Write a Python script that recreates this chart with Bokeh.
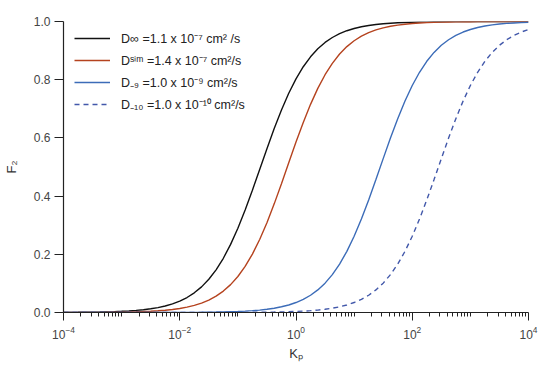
from bokeh.plotting import figure
from bokeh.models import (FixedTicker, NumeralTickFormatter, LogTickFormatter, Range1d,
                          Legend, LegendItem, ColumnDataSource)
from bokeh.embed import file_html
from bokeh.resources import INLINE

# ---- data ----
log_kp = [-4.0, -3.875, -3.75, -3.625, -3.5, -3.375, -3.25, -3.125, -3.0, -2.875,
          -2.75, -2.625, -2.5, -2.375, -2.25, -2.125, -2.0, -1.875, -1.75, -1.625,
          -1.5, -1.375, -1.25, -1.125, -1.0, -0.875, -0.75, -0.625, -0.5, -0.375,
          -0.25, -0.125, 0.0, 0.125, 0.25, 0.375, 0.5, 0.625, 0.75, 0.875,
          1.0, 1.125, 1.25, 1.375, 1.5, 1.625, 1.75, 1.875, 2.0, 2.125,
          2.25, 2.375, 2.5, 2.625, 2.75, 2.875, 3.0, 3.125, 3.25, 3.375,
          3.5, 3.625, 3.75, 3.875, 4.0]

f2_dinf = [0.0004, 0.0005, 0.0007, 0.0010, 0.0013, 0.0017, 0.0023, 0.0031, 0.0041, 0.0054,
           0.0072, 0.0096, 0.0127, 0.0169, 0.0224, 0.0296, 0.0391, 0.0515, 0.0676, 0.0881,
           0.1141, 0.1466, 0.1864, 0.2340, 0.2894, 0.3520, 0.4202, 0.4914, 0.5629, 0.6321,
           0.6961, 0.7534, 0.8029, 0.8446, 0.8787, 0.9062, 0.9280, 0.9450, 0.9582, 0.9683,
           0.9760, 0.9819, 0.9864, 0.9898, 0.9923, 0.9942, 0.9957, 0.9967, 0.9976, 0.9982,
           0.9986, 0.9990, 0.9992, 0.9994, 0.9996, 0.9997, 0.9998, 0.9998, 0.9999, 0.9999,
           0.9999, 0.9999, 1.0, 1.0, 1.0]

f2_dsim = [0.0001, 0.0002, 0.0003, 0.0003, 0.0004, 0.0006, 0.0008, 0.0011, 0.0014, 0.0019,
           0.0025, 0.0033, 0.0045, 0.0059, 0.0079, 0.0105, 0.0139, 0.0185, 0.0245, 0.0324,
           0.0428, 0.0562, 0.0736, 0.0958, 0.1238, 0.1585, 0.2008, 0.2509, 0.3087, 0.3733,
           0.4427, 0.5143, 0.5856, 0.6533, 0.7153, 0.7701, 0.8171, 0.8563, 0.8882, 0.9137,
           0.9339, 0.9496, 0.9617, 0.9710, 0.9781, 0.9835, 0.9876, 0.9906, 0.9930, 0.9947,
           0.9960, 0.9970, 0.9978, 0.9983, 0.9987, 0.9991, 0.9993, 0.9995, 0.9996, 0.9997,
           0.9998, 0.9998, 0.9999, 0.9999, 0.9999]

f2_d9 = [0.0, 0.0, 0.0, 0.0, 0.0, 0.0, 0.0, 0.0, 0.0, 0.0,
         0.0001, 0.0001, 0.0001, 0.0002, 0.0002, 0.0003, 0.0004, 0.0005, 0.0006, 0.0008,
         0.0011, 0.0015, 0.0020, 0.0027, 0.0035, 0.0047, 0.0063, 0.0083, 0.0111, 0.0147,
         0.0196, 0.0259, 0.0343, 0.0452, 0.0593, 0.0776, 0.1009, 0.1302, 0.1663, 0.2102,
         0.2619, 0.3212, 0.3869, 0.4568, 0.5288, 0.5994, 0.6661, 0.7269, 0.7801, 0.8255,
         0.8632, 0.8938, 0.9182, 0.9373, 0.9523, 0.9638, 0.9726, 0.9793, 0.9844, 0.9883,
         0.9912, 0.9934, 0.9950, 0.9963, 0.9972]

f2_d10 = [0.0, 0.0, 0.0, 0.0, 0.0, 0.0, 0.0, 0.0, 0.0, 0.0,
          0.0, 0.0, 0.0, 0.0, 0.0, 0.0, 0.0, 0.0, 0.0001, 0.0001,
          0.0001, 0.0002, 0.0002, 0.0003, 0.0004, 0.0005, 0.0006, 0.0008, 0.0011, 0.0015,
          0.0020, 0.0027, 0.0035, 0.0047, 0.0063, 0.0083, 0.0111, 0.0147, 0.0196, 0.0259,
          0.0343, 0.0452, 0.0593, 0.0776, 0.1009, 0.1302, 0.1663, 0.2102, 0.2619, 0.3212,
          0.3869, 0.4568, 0.5288, 0.5994, 0.6661, 0.7269, 0.7801, 0.8255, 0.8632, 0.8938,
          0.9182, 0.9373, 0.9523, 0.9638, 0.9726]

series_labels = ["D\u221e =1.1 x 10\u207b\u2077 cm\u00b2 /s",
                 "D\u02e2\u2071\u1d50 =1.4 x 10\u207b\u2077 cm\u00b2/s",
                 "D\u208b\u2089 =1.0 x 10\u207b\u2079 cm\u00b2/s",
                 "D\u208b\u2081\u2080 =1.0 x 10\u207b\u00b9\u2070 cm\u00b2/s"]

x_title = "K\u209a"
y_title = "F\u2082"
x_major_ticks = [1e-4, 1e-2, 1e0, 1e2, 1e4]
y_ticks = [0.0, 0.2, 0.4, 0.6, 0.8, 1.0]

kp = [10 ** v for v in log_kp]
src = ColumnDataSource(dict(kp=kp, dinf=f2_dinf, dsim=f2_dsim, d9=f2_d9, d10=f2_d10))

FONT = "Liberation Sans"

p = figure(width=550, height=370, x_axis_type="log",
           x_range=Range1d(1e-4, 1e4), y_range=Range1d(0, 1),
           output_backend="svg", toolbar_location=None,
           min_border_left=63, min_border_right=22, min_border_top=21, min_border_bottom=58)
p.outline_line_color = None
p.xgrid.visible = False
p.ygrid.visible = False
p.background_fill_color = "white"

r1 = p.line("kp", "dinf", source=src, line_color="#111111", line_width=1.4)
r2 = p.line("kp", "dsim", source=src, line_color="#b5431f", line_width=1.4)
r3 = p.line("kp", "d9", source=src, line_color="#3c6cb8", line_width=1.4)
r4 = p.line("kp", "d10", source=src, line_color="#4258aa", line_width=1.4, line_dash="5 4")

minor = []
for e in range(-4, 4):
    for m in range(2, 10):
        minor.append(m * 10 ** e)
minor += [10 ** e for e in (-3, -1, 1, 3)]

xa = p.xaxis[0]
xa.ticker = FixedTicker(ticks=x_major_ticks, minor_ticks=sorted(set(minor)))
xa.formatter = LogTickFormatter()
ya = p.yaxis[0]
ya.ticker = FixedTicker(ticks=y_ticks)
ya.formatter = NumeralTickFormatter(format="0.0")

for ax in (xa, ya):
    ax.axis_line_color = "#222222"
    ax.axis_line_width = 1.2
    ax.major_tick_line_color = "#222222"
    ax.minor_tick_line_color = "#222222"
    ax.major_tick_in = 0
    ax.minor_tick_in = 0
    ax.major_label_text_font = FONT
    ax.major_label_text_font_size = "12px"
    ax.major_label_text_color = "#444444"
    ax.axis_label_text_font = FONT
    ax.axis_label_text_font_size = "13px"
    ax.axis_label_text_font_style = "normal"
    ax.axis_label_text_color = "#333333"
xa.major_tick_out = 8
xa.minor_tick_out = 4
xa.major_label_standoff = 5
xa.axis_label = x_title
xa.axis_label_standoff = 4
ya.major_tick_out = 9
ya.minor_tick_line_color = None
ya.major_label_standoff = 4
ya.axis_label = y_title
ya.axis_label_standoff = 12

legend = Legend(items=[LegendItem(label=series_labels[0], renderers=[r1]),
                       LegendItem(label=series_labels[1], renderers=[r2]),
                       LegendItem(label=series_labels[2], renderers=[r3]),
                       LegendItem(label=series_labels[3], renderers=[r4])],
                location=(11, 198), padding=0, margin=0, spacing=2,
                label_height=20, glyph_height=20, glyph_width=36, label_standoff=11,
                border_line_color=None, background_fill_alpha=0.0,
                label_text_font=FONT, label_text_font_size="12.5px",
                label_text_color="#222222")
p.add_layout(legend, "center")

open("out.html", "w").write(file_html(p, INLINE))
